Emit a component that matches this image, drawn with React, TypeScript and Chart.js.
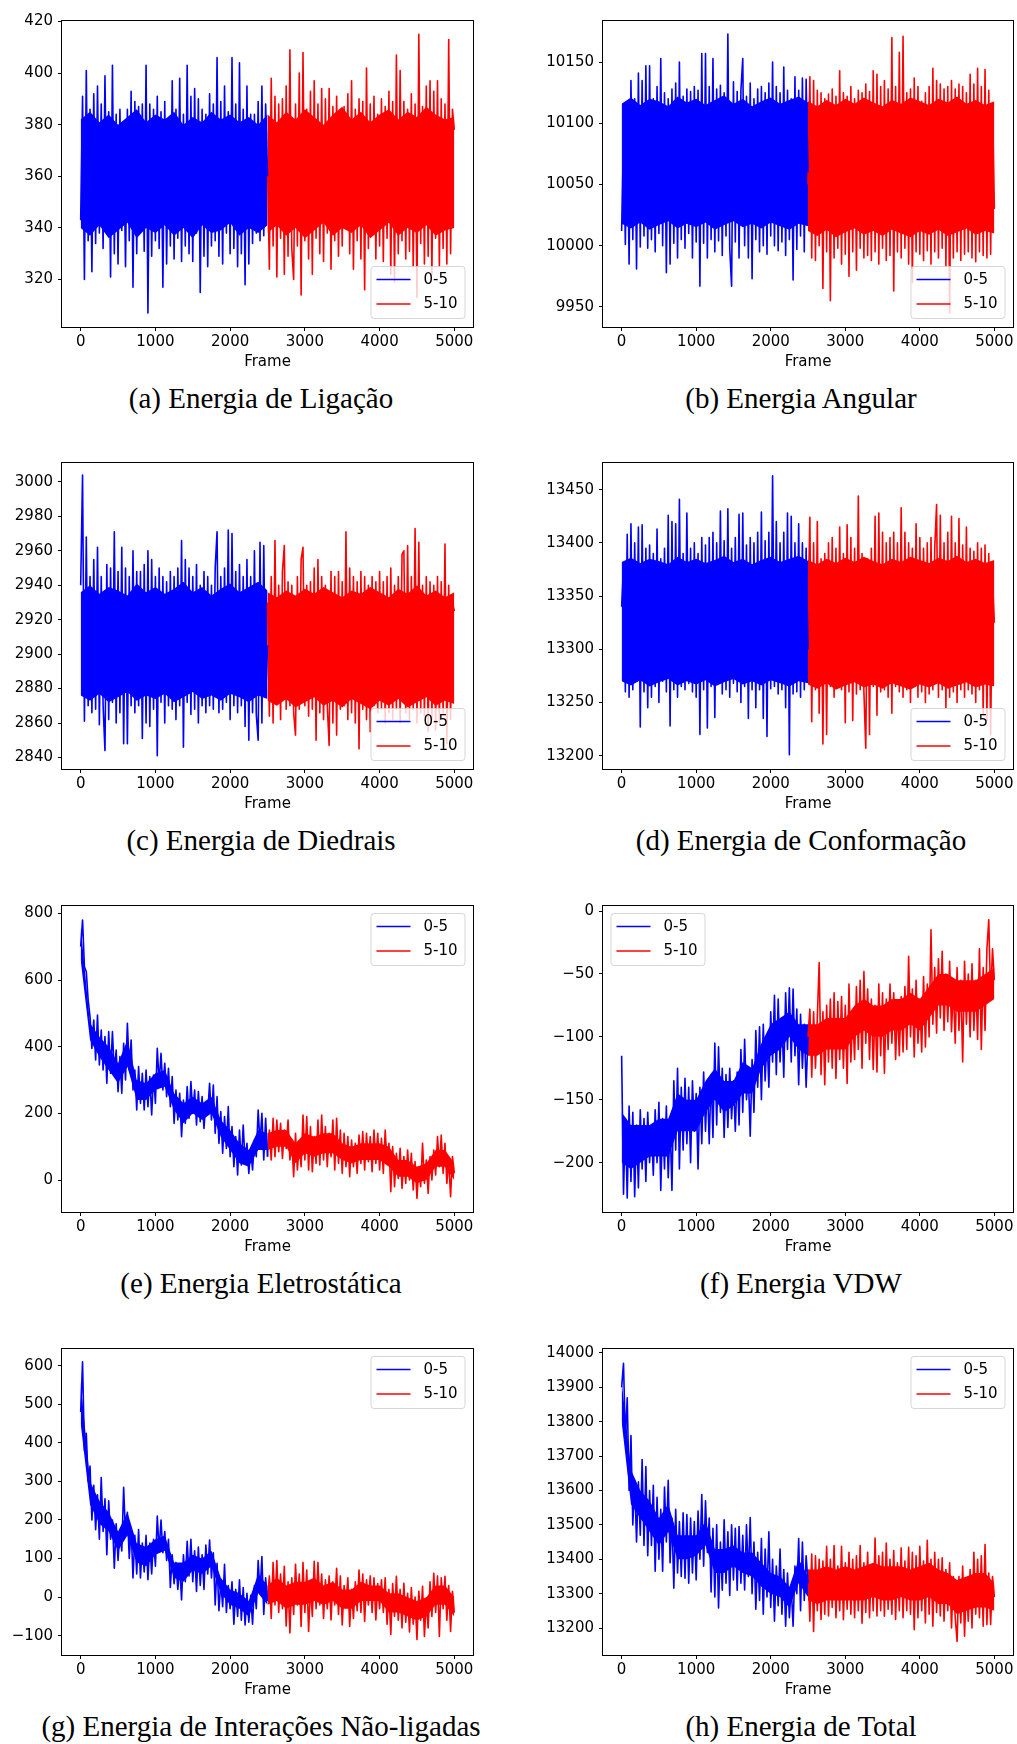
import React, { useEffect, useRef } from "react";
import { Chart, registerables } from "chart.js";

Chart.register(...registerables);

// ---------------- data ----------------
const FRAMES_05 = [
  0, 25, 50, 75, 100, 125, 150, 175, 200, 225,
  250, 275, 300, 325, 350, 375, 400, 425, 450, 475,
  500, 525, 550, 575, 600, 625, 650, 675, 700, 725,
  750, 775, 800, 825, 850, 875, 900, 925, 950, 975,
  1000, 1025, 1050, 1075, 1100, 1125, 1150, 1175, 1200, 1225,
  1250, 1275, 1300, 1325, 1350, 1375, 1400, 1425, 1450, 1475,
  1500, 1525, 1550, 1575, 1600, 1625, 1650, 1675, 1700, 1725,
  1750, 1775, 1800, 1825, 1850, 1875, 1900, 1925, 1950, 1975,
  2000, 2025, 2050, 2075, 2100, 2125, 2150, 2175, 2200, 2225,
  2250, 2275, 2300, 2325, 2350, 2375, 2400, 2425, 2450, 2475,
  2500,
];
const FRAMES_510 = [
  2500, 2525, 2550, 2575, 2600, 2625, 2650, 2675, 2700, 2725,
  2750, 2775, 2800, 2825, 2850, 2875, 2900, 2925, 2950, 2975,
  3000, 3025, 3050, 3075, 3100, 3125, 3150, 3175, 3200, 3225,
  3250, 3275, 3300, 3325, 3350, 3375, 3400, 3425, 3450, 3475,
  3500, 3525, 3550, 3575, 3600, 3625, 3650, 3675, 3700, 3725,
  3750, 3775, 3800, 3825, 3850, 3875, 3900, 3925, 3950, 3975,
  4000, 4025, 4050, 4075, 4100, 4125, 4150, 4175, 4200, 4225,
  4250, 4275, 4300, 4325, 4350, 4375, 4400, 4425, 4450, 4475,
  4500, 4525, 4550, 4575, 4600, 4625, 4650, 4675, 4700, 4725,
  4750, 4775, 4800, 4825, 4850, 4875, 4900, 4925, 4950, 4975,
  5000,
];
// frames at which the dense core of each noisy trace was read
const CORE_F05 = [0, 125, 250, 375, 500, 625, 750, 875, 1000, 1125, 1250, 1375, 1500, 1625, 1750, 1875, 2000, 2125, 2250, 2375, 2500];
const CORE_F510 = [2500, 2625, 2750, 2875, 3000, 3125, 3250, 3375, 3500, 3625, 3750, 3875, 4000, 4125, 4250, 4375, 4500, 4625, 4750, 4875, 5000];

const SERIES_LABELS = ["0-5", "5-10"];
const X_TICKS = [0, 1000, 2000, 3000, 4000, 5000];
const X_RANGE = [-250, 5250];
const X_TITLE = "Frame";

// (a) Energia de Ligação
const LIG_05 = [
  343, 391, 320, 401, 335, 386, 323, 392, 334, 395,
  338, 388, 332, 399, 340, 385, 321, 403, 330, 384,
  326, 386, 339, 378, 325, 386, 335, 393, 317, 389,
  330, 387, 342, 388, 331, 403, 307, 388, 329, 386,
  335, 391, 332, 385, 317, 389, 326, 380, 333, 397,
  328, 386, 336, 398, 327, 384, 333, 403, 330, 391,
  327, 394, 338, 390, 315, 386, 329, 384, 325, 392,
  333, 388, 335, 406, 329, 389, 326, 395, 338, 385,
  330, 406, 332, 388, 325, 404, 330, 386, 318, 395,
  326, 384, 334, 384, 338, 389, 335, 395, 337, 388,
  360,
];
const LIG_510 = [
  365, 324, 398, 333, 391, 321, 388, 336, 390, 322,
  395, 329, 409, 332, 320, 388, 333, 400, 314, 408,
  335, 386, 328, 393, 322, 397, 336, 388, 330, 394,
  327, 390, 338, 394, 324, 387, 335, 391, 329, 385,
  333, 387, 340, 392, 330, 397, 324, 386, 335, 390,
  328, 389, 316, 402, 332, 388, 338, 391, 328, 384,
  333, 390, 327, 387, 336, 393, 322, 389, 319, 407,
  330, 401, 335, 389, 328, 386, 331, 392, 325, 388,
  313, 415, 334, 387, 326, 395, 329, 397, 322, 393,
  336, 397, 325, 390, 332, 388, 326, 413, 330, 386,
  378,
];
const LIG_05_LO = [340, 337, 341, 336, 339, 342, 336, 340, 338, 341, 337, 340, 336, 341, 338, 339, 342, 337, 340, 338, 341];
const LIG_05_HI = [382, 385, 381, 384, 380, 383, 386, 381, 384, 382, 385, 380, 383, 381, 385, 382, 384, 381, 383, 380, 384];
const LIG_510_LO = [338, 341, 337, 340, 336, 339, 342, 337, 340, 338, 341, 336, 339, 342, 337, 340, 338, 341, 337, 339, 340];
const LIG_510_HI = [384, 381, 385, 382, 386, 383, 380, 384, 387, 382, 385, 381, 384, 386, 382, 385, 383, 387, 384, 382, 383];
const YT_LIG = [320, 340, 360, 380, 400, 420];
const YR_LIG = [301.6, 420.2];

// (b) Energia Angular
const ANG_05 = [
  10012, 10090, 10001, 10110, 9985, 10135, 10005, 10120, 9981, 10141,
  9999, 10135, 10008, 10147, 9998, 10147, 10005, 10120, 9995, 10130,
  10010, 10153, 10000, 10125, 9978, 10120, 9985, 10128, 10002, 10133,
  9990, 10150, 10005, 10122, 9998, 10128, 10010, 10126, 9990, 10130,
  10003, 10127, 9967, 10157, 10002, 10157, 9990, 10130, 10005, 10153,
  9995, 10128, 10004, 10131, 9992, 10125, 10008, 10173, 9998, 9967,
  10134, 10003, 10126, 9990, 10127, 10153, 10000, 10122, 9990, 10133,
  9973, 10120, 10005, 10128, 9995, 10130, 10000, 10125, 9993, 10133,
  10008, 10150, 10000, 10130, 9996, 10125, 10003, 10146, 9992, 10127,
  10005, 10120, 9972, 10138, 9997, 10127, 10008, 10137, 9995, 10136,
  10060,
];
const ANG_510 = [
  10050, 10138, 9990, 10135, 9988, 10127, 10000, 10125, 9965, 10120,
  9995, 10124, 9955, 10128, 9990, 10122, 9998, 10143, 9985, 10125,
  9993, 10122, 9975, 10130, 9995, 10120, 9980, 10127, 9998, 10125,
  9990, 10132, 9992, 10126, 9988, 10143, 9995, 10140, 9985, 10130,
  9998, 10135, 9988, 10128, 9992, 10170, 9963, 10130, 9995, 10158,
  9990, 10171, 9998, 10125, 9985, 10128, 9970, 10137, 9995, 10130,
  9993, 10118, 9988, 10125, 9996, 10130, 9985, 10145, 9995, 10135,
  9990, 10132, 9998, 10128, 9983, 10130, 9945, 10135, 9990, 10128,
  9995, 10132, 9988, 10130, 9993, 10125, 9995, 10140, 9990, 10132,
  9987, 10145, 9995, 10130, 9992, 10144, 9990, 10127, 9993, 10115,
  10030,
];
const ANG_05_LO = [10018, 10014, 10019, 10013, 10017, 10020, 10014, 10018, 10015, 10019, 10013, 10017, 10020, 10015, 10018, 10014, 10019, 10016, 10013, 10018, 10016];
const ANG_05_HI = [10116, 10121, 10115, 10120, 10118, 10114, 10122, 10117, 10120, 10115, 10119, 10123, 10116, 10120, 10114, 10118, 10121, 10116, 10119, 10122, 10117];
const ANG_510_LO = [10012, 10008, 10013, 10007, 10011, 10014, 10009, 10012, 10008, 10013, 10010, 10007, 10012, 10009, 10013, 10008, 10011, 10014, 10009, 10012, 10010];
const ANG_510_HI = [10118, 10114, 10119, 10115, 10120, 10116, 10121, 10117, 10114, 10119, 10116, 10121, 10118, 10115, 10120, 10117, 10122, 10116, 10119, 10115, 10118];
const YT_ANG = [9950, 10000, 10050, 10100, 10150];
const YR_ANG = [9933.6, 10183.6];

// (c) Energia de Diedrais
const DIE_05 = [
  2940, 3004, 2861, 2968, 2870, 2945, 2866, 2955, 2868, 2962,
  2859, 2945, 2870, 2844, 2952, 2862, 2950, 2872, 2971, 2860,
  2948, 2866, 2962, 2848, 2950, 2848, 2945, 2870, 2960, 2866,
  2948, 2870, 2948, 2851, 2952, 2860, 2960, 2858, 2955, 2868,
  2945, 2841, 2950, 2872, 2945, 2860, 2942, 2870, 2948, 2868,
  2945, 2862, 2950, 2870, 2966, 2846, 2955, 2872, 2950, 2865,
  2945, 2868, 2952, 2860, 2940, 2870, 2948, 2866, 2945, 2870,
  2940, 2868, 2950, 2971, 2866, 2945, 2868, 2950, 2872, 2972,
  2862, 2970, 2870, 2948, 2866, 2952, 2870, 2945, 2858, 2955,
  2850, 2945, 2866, 2960, 2865, 2850, 2965, 2860, 2963, 2875,
  2905,
];
const DIE_510 = [
  2930, 2864, 2945, 2860, 2966, 2872, 2940, 2862, 2948, 2963,
  2868, 2942, 2870, 2940, 2866, 2853, 2945, 2868, 2955, 2962,
  2870, 2940, 2864, 2942, 2868, 2950, 2850, 2955, 2866, 2945,
  2862, 2940, 2870, 2847, 2948, 2860, 2945, 2853, 2948, 2868,
  2942, 2870, 2971, 2862, 2950, 2866, 2945, 2860, 2942, 2845,
  2948, 2868, 2945, 2862, 2940, 2855, 2945, 2870, 2942, 2866,
  2948, 2868, 2942, 2860, 2945, 2866, 2950, 2862, 2940, 2868,
  2945, 2860, 2958, 2960, 2866, 2963, 2862, 2945, 2868, 2973,
  2860, 2965, 2866, 2940, 2864, 2945, 2855, 2942, 2862, 2940,
  2856, 2945, 2860, 2942, 2866, 2964, 2848, 2940, 2862, 2930,
  2925,
];
const DIE_05_LO = [2876, 2873, 2877, 2872, 2875, 2878, 2873, 2876, 2874, 2877, 2872, 2875, 2878, 2874, 2876, 2873, 2877, 2875, 2872, 2876, 2874];
const DIE_05_HI = [2936, 2940, 2935, 2939, 2937, 2934, 2941, 2936, 2939, 2935, 2938, 2942, 2936, 2939, 2934, 2938, 2941, 2936, 2939, 2942, 2937];
const DIE_510_LO = [2873, 2870, 2874, 2869, 2872, 2875, 2870, 2873, 2869, 2874, 2871, 2868, 2873, 2870, 2874, 2869, 2872, 2875, 2870, 2873, 2871];
const DIE_510_HI = [2936, 2933, 2937, 2934, 2938, 2935, 2939, 2936, 2933, 2937, 2935, 2939, 2936, 2933, 2938, 2935, 2940, 2934, 2937, 2933, 2936];
const YT_DIE = [2840, 2860, 2880, 2900, 2920, 2940, 2960, 2980, 3000];
const YR_DIE = [2833.3, 3011];

// (d) Energia de Conformação
const CONF_05 = [
  13340, 13378, 13260, 13408, 13255, 13418, 13262, 13400, 13270, 13415,
  13227, 13417, 13260, 13395, 13245, 13398, 13255, 13390, 13265, 13413,
  13250, 13385, 13270, 13395, 13260, 13426, 13228, 13420, 13262, 13418,
  13255, 13441, 13265, 13390, 13262, 13428, 13268, 13395, 13260, 13400,
  13255, 13390, 13220, 13405, 13262, 13398, 13226, 13405, 13265, 13410,
  13236, 13400, 13270, 13430, 13258, 13402, 13262, 13432, 13255, 13395,
  13268, 13405, 13260, 13427, 13250, 13428, 13265, 13398, 13235, 13405,
  13262, 13400, 13245, 13410, 13262, 13429, 13235, 13402, 13218, 13410,
  13263, 13463, 13265, 13420, 13258, 13400, 13262, 13410, 13245, 13428,
  13201, 13425, 13258, 13400, 13260, 13418, 13255, 13400, 13262, 13395,
  13300,
];
const CONF_510 = [
  13330, 13424, 13232, 13400, 13262, 13420, 13240, 13385, 13211, 13390,
  13220, 13400, 13265, 13405, 13255, 13395, 13265, 13415, 13262, 13390,
  13231, 13417, 13260, 13405, 13233, 13395, 13258, 13444, 13262, 13390,
  13260, 13207, 13385, 13220, 13395, 13265, 13425, 13238, 13428, 13260,
  13410, 13262, 13400, 13255, 13405, 13240, 13410, 13265, 13400, 13260,
  13433, 13255, 13410, 13262, 13400, 13250, 13395, 13265, 13418, 13255,
  13405, 13260, 13395, 13250, 13400, 13258, 13405, 13262, 13395, 13436,
  13255, 13426, 13262, 13400, 13245, 13410, 13255, 13425, 13260, 13400,
  13250, 13423, 13262, 13398, 13255, 13415, 13262, 13395, 13258, 13392,
  13250, 13400, 13262, 13395, 13240, 13398, 13233, 13390, 13220, 13365,
  13325,
];
const CONF_05_LO = [13270, 13266, 13271, 13265, 13269, 13272, 13266, 13270, 13267, 13271, 13265, 13269, 13272, 13267, 13270, 13266, 13271, 13268, 13265, 13270, 13268];
const CONF_05_HI = [13382, 13386, 13381, 13385, 13383, 13380, 13387, 13382, 13385, 13381, 13384, 13388, 13382, 13385, 13380, 13384, 13387, 13382, 13385, 13388, 13383];
const CONF_510_LO = [13267, 13263, 13268, 13262, 13266, 13269, 13264, 13267, 13263, 13268, 13265, 13262, 13267, 13264, 13268, 13263, 13266, 13269, 13264, 13267, 13265];
const CONF_510_HI = [13384, 13380, 13385, 13381, 13386, 13382, 13387, 13383, 13380, 13385, 13382, 13387, 13384, 13381, 13386, 13383, 13388, 13382, 13385, 13381, 13384];
const YT_CONF = [13200, 13250, 13300, 13350, 13400, 13450];
const YR_CONF = [13187.5, 13475.1];

// (e) Energia Eletrostática
const ELE_05 = [
  700, 780, 640, 625, 540, 490, 395, 480, 360, 495,
  345, 450, 330, 430, 290, 445, 320, 445, 320, 390,
  265, 370, 260, 410, 300, 470, 330, 420, 270, 330,
  210, 340, 230, 320, 210, 330, 220, 310, 195, 315,
  230, 395, 290, 380, 270, 350, 250, 335, 220, 310,
  170, 270, 180, 260, 130, 240, 170, 280, 185, 295,
  200, 270, 165, 265, 175, 250, 155, 235, 200, 290,
  180, 285, 140, 250, 110, 205, 80, 190, 95, 220,
  70, 160, 40, 130, 15, 150, 45, 165, 55, 110,
  20, 95, 30, 120, 70, 210, 110, 200, 60, 185,
  70,
];
const ELE_510 = [
  70, 150, 60, 185, 70, 180, 85, 170, 65, 150,
  95, 180, 60, 120, 10, 140, 30, 110, 40, 195,
  60, 190, 30, 160, 25, 130, 50, 180, 45, 195,
  60, 160, 40, 140, 70, 180, 30, 185, 50, 150,
  20, 140, 40, 130, 10, 120, 40, 110, 20, 135,
  50, 145, 30, 140, 55, 130, 25, 150, 50, 140,
  30, 125, 20, 150, 50, 110, -35, 100, -20, 80,
  5, 95, -25, 70, -10, 90, 0, 80, -30, 55,
  -55, 40, -20, 110, -10, 60, -40, 70, 0, 90,
  15, 130, 40, 135, 20, 110, -10, 60, -50, 70,
  20,
];
const ELE_05_LO = [660, 420, 370, 330, 290, 340, 240, 240, 270, 280, 210, 170, 200, 180, 200, 130, 90, 50, 40, 90, 90];
const ELE_05_HI = [760, 470, 430, 400, 350, 420, 300, 290, 320, 330, 260, 230, 250, 230, 250, 180, 150, 110, 90, 150, 140];
const ELE_510_LO = [90, 100, 100, 50, 80, 70, 80, 80, 60, 50, 60, 60, 60, 40, 10, 10, -10, 0, 40, 40, 0];
const ELE_510_HI = [140, 150, 150, 110, 140, 130, 140, 140, 110, 100, 110, 110, 110, 100, 60, 60, 40, 50, 90, 90, 50];
const YT_ELE = [0, 200, 400, 600, 800];
const YR_ELE = [-96, 822];

// (f) Energia VDW
const VDW_05 = [
  -115, -225, -165, -228, -155, -215, -160, -227, -170, -220,
  -158, -205, -165, -215, -160, -200, -172, -210, -158, -200,
  -152, -222, -165, -205, -155, -212, -170, -222, -135, -190,
  -125, -205, -140, -190, -133, -185, -140, -200, -135, -175,
  -145, -205, -140, -185, -128, -175, -135, -185, -130, -180,
  -105, -170, -108, -160, -125, -180, -130, -172, -125, -165,
  -135, -175, -128, -170, -110, -160, -102, -150, -130, -179,
  -118, -160, -95, -140, -92, -150, -90, -135, -100, -140,
  -80, -120, -67, -130, -70, -120, -85, -132, -65, -110,
  -61, -120, -62, -115, -78, -138, -82, -125, -90, -140,
  -100,
];
const VDW_510 = [
  -100, -78, -132, -80, -125, -85, -41, -130, -80, -138,
  -75, -120, -70, -125, -65, -133, -72, -118, -68, -125,
  -75, -137, -58, -120, -80, -118, -60, -110, -55, -125,
  -48, -105, -62, -118, -70, -126, -75, -128, -58, -115,
  -65, -129, -70, -110, -58, -105, -65, -118, -75, -115,
  -68, -112, -60, -110, -36, -100, -62, -116, -55, -105,
  -70, -112, -52, -108, -58, -100, -15, -90, -45, -97,
  -38, -85, -32, -95, -50, -88, -40, -96, -60, -105,
  -45, -95, -55, -120, -40, -90, -50, -100, -42, -95,
  -55, -102, -30, -110, -45, -95, -30, -7, -70, -30,
  -55,
];
const VDW_05_LO = [-200, -205, -200, -195, -195, -195, -175, -175, -175, -160, -150, -160, -155, -145, -145, -125, -115, -110, -100, -110, -115];
const VDW_05_HI = [-160, -170, -170, -170, -165, -165, -145, -150, -150, -135, -125, -135, -135, -120, -125, -105, -90, -85, -80, -90, -90];
const VDW_510_LO = [-115, -115, -110, -110, -110, -100, -95, -100, -100, -95, -95, -90, -95, -85, -75, -75, -80, -80, -80, -75, -70];
const VDW_510_HI = [-90, -90, -85, -85, -85, -75, -70, -75, -75, -70, -70, -65, -70, -60, -50, -50, -55, -55, -55, -50, -45];
const YT_VDW = [-200, -150, -100, -50, 0];
const YR_VDW = [-239.2, 4];

// (g) Energia de Interações Não-ligadas
const NB_05 = [
  480, 610, 380, 425, 300, 340, 200, 290, 175, 265,
  150, 310, 170, 255, 110, 250, 150, 200, 75, 190,
  95, 175, 120, 285, 160, 220, 100, 180, 50, 160,
  60, 175, 50, 140, 65, 160, 45, 140, 60, 150,
  80, 210, 120, 200, 115, 170, 95, 150, 25, 110,
  35, 90, 20, 80, -7, 110, 40, 145, 55, 150,
  40, 120, 15, 130, 30, 110, 20, 135, 60, 148,
  50, 115, -20, 88, -35, 40, -25, 85, -40, 30,
  -30, 40, -70, 20, -50, 45, -60, 25, -72, 10,
  -65, 5, -70, 30, -30, 95, 10, 105, -45, 50,
  -10,
];
const NB_510 = [
  -10, 55, -55, 90, -20, 95, -40, 60, -30, 80,
  -75, 40, -93, 50, -45, 85, -20, 60, -76, 90,
  -40, 70, -89, 30, -50, 93, -30, 90, -20, 60,
  -55, 45, -30, 55, -59, 40, -20, 75, -45, 55,
  -72, 30, -20, 50, -76, 20, -55, 40, -35, 70,
  -40, 60, -63, 45, -20, 55, -40, 50, -59, 35,
  -30, 45, -40, 50, -70, 20, -97, 35, -50, 54,
  -60, 20, -80, 36, -65, 10, -90, 25, -70, 0,
  -110, 15, -60, 28, -102, -10, -80, 40, -50, 62,
  -40, 55, -102, 50, -30, 54, -60, 30, -89, 15,
  -40,
];
const NB_05_LO = [450, 240, 190, 170, 120, 160, 90, 80, 110, 120, 50, 40, 70, 60, 80, 10, -20, -30, -50, 10, -20];
const NB_05_HI = [560, 300, 250, 220, 170, 220, 140, 130, 150, 160, 90, 90, 110, 100, 120, 50, 20, 10, -10, 60, 30];
const NB_510_LO = [-20, -10, -30, -20, -20, -10, -20, -10, -30, -30, -10, -10, -10, -40, -40, -50, -60, -50, -20, -20, -50];
const NB_510_HI = [30, 50, 30, 40, 40, 50, 30, 40, 20, 20, 40, 30, 30, 10, 10, 0, -10, 0, 30, 30, 0];
const YT_NB = [-100, 0, 100, 200, 300, 400, 500, 600];
const YR_NB = [-150, 643.3];

// (h) Energia de Total
const TOT_05 = [
  13900, 13970, 13750, 13870, 13600, 13760, 13500, 13630, 13450, 13625,
  13470, 13690, 13440, 13670, 13410, 13600, 13440, 13615, 13365, 13580,
  13400, 13545, 13365, 13610, 13450, 13630, 13390, 13520, 13316, 13545,
  13360, 13510, 13350, 13535, 13345, 13530, 13330, 13520, 13360, 13510,
  13340, 13540, 13400, 13588, 13380, 13570, 13420, 13520, 13305, 13490,
  13290, 13500, 13258, 13450, 13310, 13515, 13330, 13480, 13295, 13500,
  13340, 13490, 13310, 13495, 13330, 13470, 13311, 13500, 13350, 13521,
  13300, 13450, 13255, 13420, 13280, 13460, 13240, 13430, 13290, 13480,
  13260, 13400, 13220, 13380, 13265, 13430, 13240, 13370, 13205, 13360,
  13230, 13320, 13205, 13380, 13300, 13460, 13250, 13450, 13280, 13410,
  13330,
];
const TOT_510 = [
  13370, 13220, 13415, 13190, 13410, 13250, 13400, 13225, 13395, 13240,
  13438, 13235, 13400, 13260, 13440, 13230, 13380, 13250, 13438, 13224,
  13390, 13255, 13420, 13240, 13400, 13230, 13410, 13250, 13440, 13214,
  13390, 13245, 13420, 13230, 13380, 13250, 13462, 13235, 13410, 13250,
  13420, 13234, 13447, 13255, 13400, 13240, 13425, 13225, 13390, 13250,
  13433, 13230, 13395, 13250, 13435, 13240, 13420, 13195, 13410, 13230,
  13438, 13250, 13395, 13215, 13455, 13240, 13400, 13205, 13420, 13245,
  13400, 13235, 13404, 13220, 13370, 13250, 13390, 13200, 13350, 13230,
  13161, 13350, 13215, 13380, 13176, 13330, 13220, 13370, 13200, 13420,
  13240, 13400, 13230, 13410, 13205, 13443, 13210, 13360, 13210, 13350,
  13290,
];
const TOT_05_LO = [13800, 13560, 13520, 13480, 13440, 13480, 13400, 13400, 13410, 13440, 13360, 13360, 13380, 13360, 13350, 13320, 13300, 13290, 13260, 13330, 13290];
const TOT_05_HI = [13920, 13660, 13600, 13570, 13520, 13560, 13470, 13470, 13470, 13510, 13430, 13430, 13440, 13420, 13420, 13390, 13360, 13350, 13320, 13400, 13350];
const TOT_510_LO = [13280, 13270, 13280, 13280, 13280, 13280, 13280, 13290, 13280, 13280, 13290, 13280, 13280, 13290, 13270, 13270, 13240, 13250, 13260, 13260, 13250];
const TOT_510_HI = [13370, 13370, 13380, 13370, 13380, 13370, 13380, 13390, 13380, 13380, 13380, 13370, 13380, 13390, 13370, 13360, 13340, 13350, 13360, 13360, 13330];
const YT_TOT = [13200, 13300, 13400, 13500, 13600, 13700, 13800, 13900, 14000];
const YR_TOT = [13121.5, 14011.6];

const CAPTIONS = [
  "(a) Energia de Ligação",
  "(b) Energia Angular",
  "(c) Energia de Diedrais",
  "(d) Energia de Conformação",
  "(e) Energia Eletrostática",
  "(f) Energia VDW",
  "(g) Energia de Interações Não-ligadas",
  "(h) Energia de Total",
];

// ---------------- panel table ----------------
type LegendPos = "lr" | "ur" | "ul";
type PanelDef = {
  s05: number[];
  s510: number[];
  lo05: number[];
  hi05: number[];
  lo510: number[];
  hi510: number[];
  yTicks: number[];
  yRange: number[];
  legend: LegendPos;
  caption: string;
  col: number;
  row: number;
};

const PANELS: PanelDef[] = [
  { s05: LIG_05, s510: LIG_510, lo05: LIG_05_LO, hi05: LIG_05_HI, lo510: LIG_510_LO, hi510: LIG_510_HI, yTicks: YT_LIG, yRange: YR_LIG, legend: "lr", caption: CAPTIONS[0], col: 0, row: 0 },
  { s05: ANG_05, s510: ANG_510, lo05: ANG_05_LO, hi05: ANG_05_HI, lo510: ANG_510_LO, hi510: ANG_510_HI, yTicks: YT_ANG, yRange: YR_ANG, legend: "lr", caption: CAPTIONS[1], col: 1, row: 0 },
  { s05: DIE_05, s510: DIE_510, lo05: DIE_05_LO, hi05: DIE_05_HI, lo510: DIE_510_LO, hi510: DIE_510_HI, yTicks: YT_DIE, yRange: YR_DIE, legend: "lr", caption: CAPTIONS[2], col: 0, row: 1 },
  { s05: CONF_05, s510: CONF_510, lo05: CONF_05_LO, hi05: CONF_05_HI, lo510: CONF_510_LO, hi510: CONF_510_HI, yTicks: YT_CONF, yRange: YR_CONF, legend: "lr", caption: CAPTIONS[3], col: 1, row: 1 },
  { s05: ELE_05, s510: ELE_510, lo05: ELE_05_LO, hi05: ELE_05_HI, lo510: ELE_510_LO, hi510: ELE_510_HI, yTicks: YT_ELE, yRange: YR_ELE, legend: "ur", caption: CAPTIONS[4], col: 0, row: 2 },
  { s05: VDW_05, s510: VDW_510, lo05: VDW_05_LO, hi05: VDW_05_HI, lo510: VDW_510_LO, hi510: VDW_510_HI, yTicks: YT_VDW, yRange: YR_VDW, legend: "ul", caption: CAPTIONS[5], col: 1, row: 2 },
  { s05: NB_05, s510: NB_510, lo05: NB_05_LO, hi05: NB_05_HI, lo510: NB_510_LO, hi510: NB_510_HI, yTicks: YT_NB, yRange: YR_NB, legend: "ur", caption: CAPTIONS[6], col: 0, row: 3 },
  { s05: TOT_05, s510: TOT_510, lo05: TOT_05_LO, hi05: TOT_05_HI, lo510: TOT_510_LO, hi510: TOT_510_HI, yTicks: YT_TOT, yRange: YR_TOT, legend: "ur", caption: CAPTIONS[7], col: 1, row: 3 },
];

// ---------------- layout ----------------
const Y_AXIS_W = 62;
const X_AXIS_H = 44;
const PAD_TOP = 8;
const PLOT_H = 306;
const COL_LEFT = [0, 541];
const COL_PLOT_W = [411, 410];
const COL_PAD_R = [14, 4];
const ROW_TOP = [13, 455, 898, 1341];
const CAP_CX = [261, 801];
const CAP_BASE = [408, 850, 1293, 1736];
const CAP_SIZE = 29;

const TICK_FONT = { family: "'DejaVu Sans', sans-serif", size: 15 };
const LINE_W = 1.6;
const COLORS = ["#0000ff", "#ff0000"];

const fmt = (v: number) => String(v).replace("-", "\u2212");

function PanelChart({ p }: { p: PanelDef }) {
  const ref = useRef<HTMLCanvasElement | null>(null);
  const w = Y_AXIS_W + COL_PLOT_W[p.col] + COL_PAD_R[p.col];
  const h = PAD_TOP + PLOT_H + X_AXIS_H;

  useEffect(() => {
    const canvas = ref.current;
    if (!canvas) return;

    const framePlugin = {
      id: "frameAndLegend",
      afterDatasetsDraw(chart: any) {
        const { ctx, chartArea: a } = chart;
        ctx.save();
        ctx.strokeStyle = "#000";
        ctx.lineWidth = 1;
        ctx.strokeRect(a.left - 0.5, a.top - 0.5, a.right - a.left + 1, a.bottom - a.top + 1);
        const bw = 94, bh = 52;
        const bx = p.legend === "ul" ? a.left + 8 : a.right - 8 - bw;
        const by = p.legend === "lr" ? a.bottom - 8.5 - bh : a.top + 7.5;
        const r = 3;
        ctx.beginPath();
        ctx.moveTo(bx + r, by);
        ctx.lineTo(bx + bw - r, by);
        ctx.arcTo(bx + bw, by, bx + bw, by + r, r);
        ctx.lineTo(bx + bw, by + bh - r);
        ctx.arcTo(bx + bw, by + bh, bx + bw - r, by + bh, r);
        ctx.lineTo(bx + r, by + bh);
        ctx.arcTo(bx, by + bh, bx, by + bh - r, r);
        ctx.lineTo(bx, by + r);
        ctx.arcTo(bx, by, bx + r, by, r);
        ctx.closePath();
        ctx.fillStyle = "rgba(255,255,255,0.8)";
        ctx.fill();
        ctx.strokeStyle = "rgba(204,204,204,0.8)";
        ctx.lineWidth = 1;
        ctx.stroke();
        const items = chart.data.datasets.filter((ds: any) => SERIES_LABELS.includes(ds.label));
        items.forEach((ds: any, i: number) => {
          const ly = by + 13 + i * 24.5;
          ctx.beginPath();
          ctx.moveTo(bx + 5.5, ly);
          ctx.lineTo(bx + 39.5, ly);
          ctx.strokeStyle = ds.borderColor;
          ctx.lineWidth = LINE_W;
          ctx.stroke();
          ctx.fillStyle = "#000";
          ctx.font = "15px 'DejaVu Sans', sans-serif";
          ctx.textBaseline = "middle";
          ctx.textAlign = "left";
          ctx.fillText(ds.label, bx + 52.5, ly + 0.5);
        });
        ctx.restore();
      },
    };

    const mk = (xs: number[], ys: number[]) => xs.map((x, i) => ({ x, y: ys[i] }));
    const line = (label: string, xs: number[], ys: number[], color: string) => ({
      label,
      data: mk(xs, ys),
      borderColor: color,
      backgroundColor: color,
      borderWidth: LINE_W,
      pointRadius: 0,
      tension: 0,
      borderJoinStyle: "round",
      fill: false,
    });
    const coreEdge = (xs: number[], ys: number[], color: string, fill: any) => ({
      label: "",
      data: mk(xs, ys),
      borderColor: color,
      backgroundColor: color,
      borderWidth: 0,
      pointRadius: 0,
      tension: 0,
      fill,
    });

    const chart = new Chart(canvas, {
      type: "line",
      data: {
        datasets: [
          line(SERIES_LABELS[0], FRAMES_05, p.s05, COLORS[0]),
          line(SERIES_LABELS[1], FRAMES_510, p.s510, COLORS[1]),
          coreEdge(CORE_F05, p.lo05, COLORS[0], false),
          coreEdge(CORE_F05, p.hi05, COLORS[0], "-1"),
          coreEdge(CORE_F510, p.lo510, COLORS[1], false),
          coreEdge(CORE_F510, p.hi510, COLORS[1], "-1"),
        ],
      },
      options: {
        responsive: false,
        animation: false,
        devicePixelRatio: 1,
        layout: { padding: { left: 0, top: PAD_TOP, right: COL_PAD_R[p.col], bottom: 0 } },
        plugins: { legend: { display: false }, tooltip: { enabled: false }, filler: { propagate: false } },
        events: [],
        scales: {
          x: {
            type: "linear",
            min: X_RANGE[0],
            max: X_RANGE[1],
            afterBuildTicks: (s: any) => {
              s.ticks = X_TICKS.map((v) => ({ value: v }));
            },
            afterFit: (s: any) => {
              s.height = X_AXIS_H;
              s.paddingLeft = 0;
              s.paddingRight = 0;
            },
            grid: { display: true, drawOnChartArea: false, drawTicks: true, tickLength: 4, color: "#000", lineWidth: 1 },
            border: { display: false },
            ticks: { font: TICK_FONT, color: "#000", padding: 2, maxRotation: 0, autoSkip: false, callback: (v: any) => fmt(v) },
            title: { display: true, text: X_TITLE, font: TICK_FONT, color: "#000", padding: { top: 0, bottom: 0 } },
          },
          y: {
            type: "linear",
            min: p.yRange[0],
            max: p.yRange[1],
            afterBuildTicks: (s: any) => {
              s.ticks = p.yTicks.map((v) => ({ value: v }));
            },
            afterFit: (s: any) => {
              s.width = Y_AXIS_W;
              s.paddingTop = 0;
              s.paddingBottom = 0;
            },
            grid: { display: true, drawOnChartArea: false, drawTicks: true, tickLength: 4, color: "#000", lineWidth: 1 },
            border: { display: false },
            ticks: { font: TICK_FONT, color: "#000", padding: 5, autoSkip: false, callback: (v: any) => fmt(v) },
          },
        },
      } as any,
      plugins: [framePlugin],
    });
    return () => chart.destroy();
  }, []);

  return (
    <canvas
      ref={ref}
      width={w}
      height={h}
      style={{ position: "absolute", left: COL_LEFT[p.col], top: ROW_TOP[p.row], width: w, height: h }}
    />
  );
}

export default function App() {
  return (
    <div style={{ position: "absolute", left: 0, top: 0, width: 1017, height: 1744, background: "#fff", overflow: "hidden" }}>
      {PANELS.map((p, i) => (
        <React.Fragment key={i}>
          <PanelChart p={p} />
          <div
            style={{
              position: "absolute",
              left: CAP_CX[p.col] - 260,
              width: 520,
              top: CAP_BASE[p.row] - 0.8375 * CAP_SIZE,
              textAlign: "center",
              fontFamily: "'Liberation Serif', serif",
              fontSize: CAP_SIZE,
              lineHeight: CAP_SIZE + "px",
              whiteSpace: "nowrap",
              color: "#000",
            }}
          >
            {p.caption}
          </div>
        </React.Fragment>
      ))}
    </div>
  );
}
